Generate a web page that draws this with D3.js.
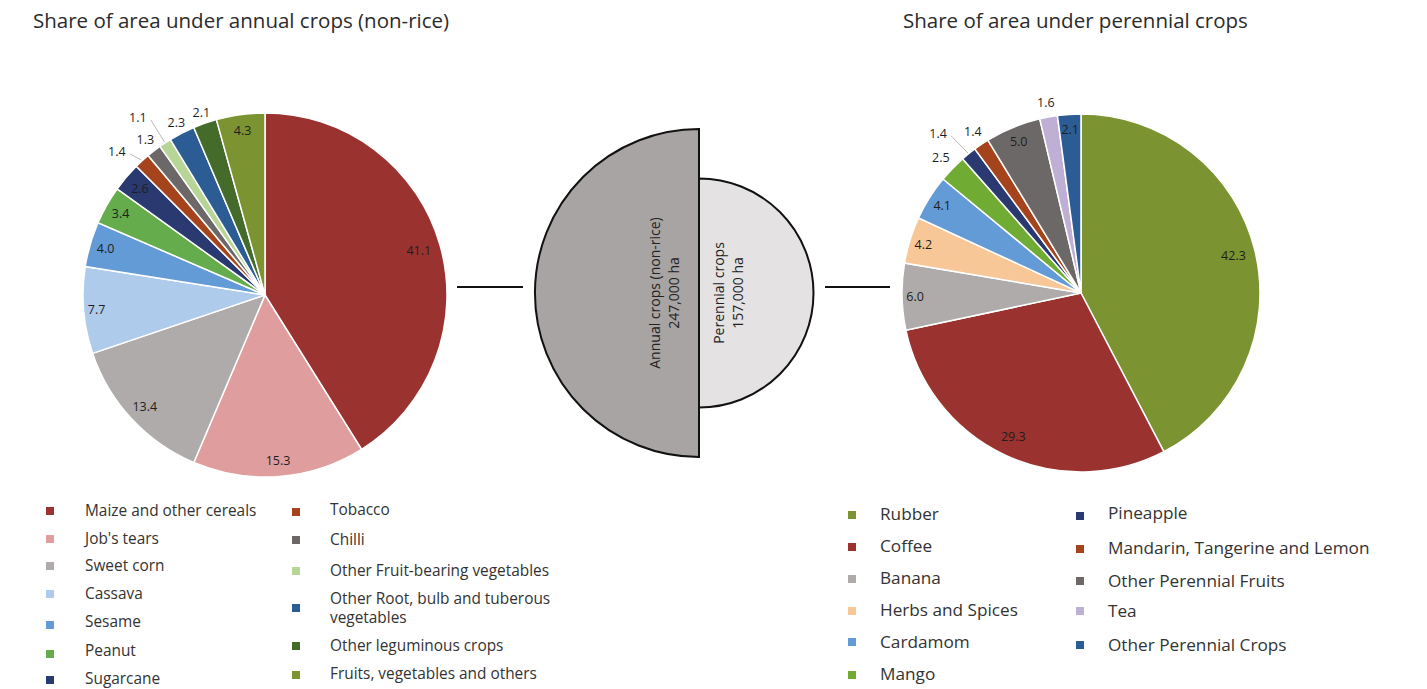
<!DOCTYPE html>
<html>
<head>
<meta charset="utf-8">
<script src="https://cdn.jsdelivr.net/npm/d3@7"></script>
<style>
  body { margin: 0; background: #ffffff; }
  svg text { font-family: "Open Sans", Lato, sans-serif; fill: #2b2b2b; }
</style>
</head>
<body>
<div id="chart"></div>
<script>
// ---- data ----
var annualCrops = ["Maize and other cereals", "Job's tears", "Sweet corn", "Cassava", "Sesame", "Peanut", "Sugarcane",
    "Tobacco", "Chilli", "Other Fruit-bearing vegetables", "Other Root, bulb and tuberous vegetables",
    "Other leguminous crops", "Fruits, vegetables and others"];
var annualShare = [41.1, 15.3, 13.4, 7.7, 4.0, 3.4, 2.6, 1.4, 1.3, 1.1, 2.3, 2.1, 4.3];
var annualColors = ["#9a3230", "#e09d9d", "#afabab", "#afcbec", "#629bd5", "#64ac4c", "#2a3a70",
    "#a5441c", "#6d6868", "#b6d596", "#2b5c94", "#446b2a", "#7b9330"];

var perennialCrops = ["Rubber", "Coffee", "Banana", "Herbs and Spices", "Cardamom", "Mango",
    "Pineapple", "Mandarin, Tangerine and Lemon", "Other Perennial Fruits", "Tea", "Other Perennial Crops"];
var perennialShare = [42.3, 29.3, 6.0, 4.2, 4.1, 2.5, 1.4, 1.4, 5.0, 1.6, 2.1];
var perennialColors = ["#7b9330", "#9a3230", "#afabab", "#f8c797", "#629bd5", "#70ab34",
    "#2a3a70", "#a5441c", "#6d6868", "#bfafd4", "#2b5c94"];

var totalNames = ["Annual crops (non-rice)", "Perennial crops"];
var totalArea = [247000, 157000];

// label placement (radial offset from the rim in px, angle nudge in degrees, leader line yes/no)
var annualLabelOff = [-22, -16, -18, -13, -16, -16, -18, 24, 14, 36, 12, 11, -16];
var annualLabelTurn = [0, 0, 0, 0, 0, 0, 0, -3.5, 0, -2.4, 0, 0, 0];
var annualLeader = [0, 0, 0, 0, 0, 0, 0, 1, 0, 1, 0, 0, 0];
var perennialLabelOff = [-22, -20, -13, -14, -15, 16, 35, 15, -15, 15, -15];
var perennialLabelTurn = [0, 0, 0, 0, 0, 0, -3, 0, 0, 0, 0];
var perennialLeader = [0, 0, 0, 0, 0, 0, 1, 0, 0, 0, 0];

var W = 1427, H = 689;
var svg = d3.select("#chart").append("svg").attr("width", W).attr("height", H);

// titles
svg.append("text").attr("x", 33).attr("y", 28).style("font-size", "20.5px")
    .text("Share of area under annual crops (non-rice)");
svg.append("text").attr("x", 903).attr("y", 28).style("font-size", "20.5px")
    .text("Share of area under perennial crops");

function drawPie(cx, cy, r, names, vals, cols, off, turn, lead) {
    var g = svg.append("g").attr("transform", "translate(" + cx + "," + cy + ")");
    var pie = d3.pie().sort(null).value(d => d)(vals);
    var arc = d3.arc().innerRadius(0).outerRadius(r);

    g.selectAll("path.slice")
        .data(pie)
        .enter()
        .append("path")
        .attr("class", "slice")
        .attr("d", arc)
        .attr("fill", (d, i) => cols[i])
        .attr("stroke", "#ffffff")
        .attr("stroke-width", 1.5);

    pie.forEach(function(d, i) {
        var mid = (d.startAngle + d.endAngle) / 2;
        var a = mid + turn[i] * Math.PI / 180;
        var lr = r + off[i];
        var lx = Math.sin(a) * lr, ly = -Math.cos(a) * lr;
        if (lead[i]) {
            // thin grey leader from label to the slice rim
            g.append("line")
                .attr("x1", lx + 13).attr("y1", ly + 2)
                .attr("x2", Math.sin(mid) * (r + 1)).attr("y2", -Math.cos(mid) * (r + 1))
                .attr("stroke", "#a6a6a6").attr("stroke-width", 0.8);
        }
        g.append("text")
            .attr("x", lx).attr("y", ly)
            .attr("dy", "0.35em")
            .attr("text-anchor", "middle")
            .style("font-size", "12.5px")
            .style("fill", "#1e1e1e")
            .text(vals[i].toFixed(1));
    });
}

drawPie(265, 295, 182, annualCrops, annualShare, annualColors, annualLabelOff, annualLabelTurn, annualLeader);
drawPie(1081, 293, 179, perennialCrops, perennialShare, perennialColors, perennialLabelOff, perennialLabelTurn, perennialLeader);

// middle: two half-discs sized by total area
var rScale = d3.scaleLinear().domain([157000, 247000]).range([114.5, 164]);
var midX = 699, midY = 293;
var mid = svg.append("g").attr("transform", "translate(" + midX + "," + midY + ")");
var halfFills = ["#a8a4a3", "#e4e2e3"];
totalArea.forEach(function(v, i) {
    var rr = rScale(v);
    var half = d3.arc().innerRadius(0).outerRadius(rr)
        .startAngle(i === 0 ? Math.PI : 0).endAngle(i === 0 ? 2 * Math.PI : Math.PI);
    mid.append("path")
        .attr("d", half())
        .attr("fill", halfFills[i])
        .attr("stroke", "#111111")
        .attr("stroke-width", 2);
});
// labels inside half-discs (rotated)
var labelCols = [[-44, -25], [20, 39]];
totalArea.forEach(function(v, i) {
    [totalNames[i], d3.format(",")(v) + " ha"].forEach(function(t, j) {
        mid.append("text")
            .attr("transform", "translate(" + labelCols[i][j] + ",0) rotate(-90)")
            .attr("text-anchor", "middle")
            .attr("dy", "0.35em")
            .style("font-size", "14px")
            .style("fill", "#222")
            .text(t);
    });
});
// connector lines
svg.append("line").attr("x1", 457).attr("x2", 523).attr("y1", 287).attr("y2", 287)
    .attr("stroke", "#111").attr("stroke-width", 2);
svg.append("line").attr("x1", 825).attr("x2", 890).attr("y1", 287).attr("y2", 287)
    .attr("stroke", "#111").attr("stroke-width", 2);

// legends
function legend(names, cols, layout, fontSize) {
    names.forEach(function(n, i) {
        var p = layout[i];
        svg.append("rect")
            .attr("x", p[0]).attr("y", p[3] - 4)
            .attr("width", 8).attr("height", 8)
            .attr("fill", cols[i]);
        var lines = p[4] || [n];
        lines.forEach(function(t, j) {
            svg.append("text")
                .attr("x", p[1]).attr("y", p[2] + j * 19)
                .attr("dy", "0.35em")
                .style("font-size", fontSize)
                .style("fill", "#333")
                .text(t);
        });
    });
}
// [squareX, textX, textY, squareY, split lines]
var annualLegendLayout = [
    [46, 85, 511, 511], [46, 85, 539, 539], [46, 85, 566, 566], [46, 85, 594, 594],
    [46, 85, 622, 625], [46, 85, 651, 654], [46, 85, 679, 680],
    [292, 330, 510, 512], [292, 330, 540, 540], [292, 330, 571, 571],
    [292, 330, 599, 608, ["Other Root, bulb and tuberous", "vegetables"]],
    [292, 330, 646, 646], [292, 330, 674, 675]
];
var perennialLegendLayout = [
    [848, 880, 514, 515], [848, 880, 546, 547], [848, 880, 578, 579], [848, 880, 610, 611],
    [848, 880, 642, 642], [848, 880, 674, 675],
    [1076, 1108, 513, 516], [1076, 1108, 548, 549], [1076, 1108, 581, 581],
    [1076, 1108, 611, 611], [1076, 1108, 645, 645]
];
legend(annualCrops, annualColors, annualLegendLayout, "15.4px");
legend(perennialCrops, perennialColors, perennialLegendLayout, "17.2px");
</script>
</body>
</html>
